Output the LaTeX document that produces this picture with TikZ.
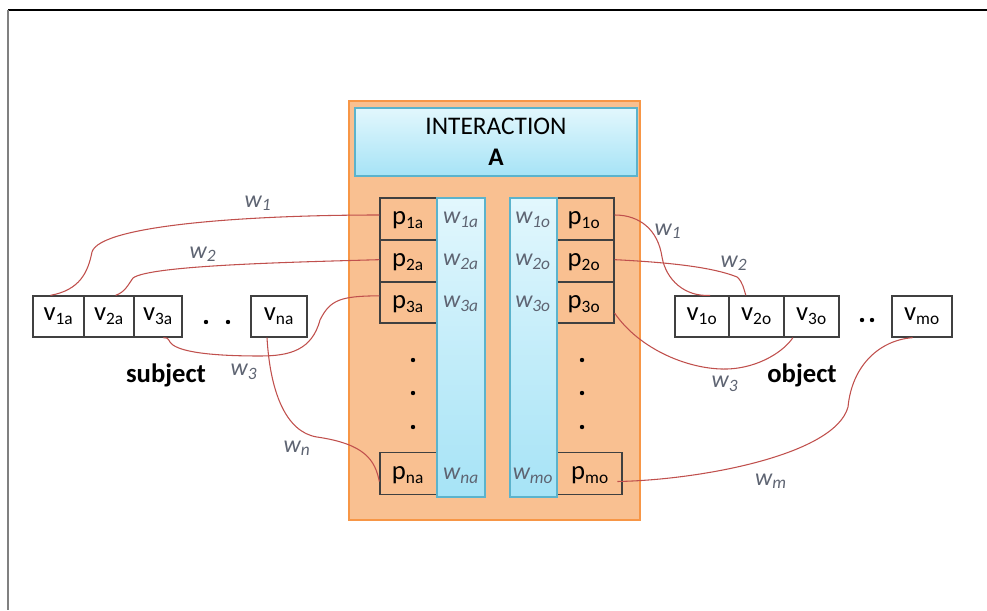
\documentclass[tikz,border=0pt]{standalone}
\usepackage{fontspec}
\setmainfont{Carlito}
\usetikzlibrary{calc}
\definecolor{orfill}{HTML}{F9C091}
\definecolor{ordraw}{HTML}{F79646}
\definecolor{bltop}{HTML}{E2F7FD}
\definecolor{blbot}{HTML}{A6E3F6}
\definecolor{bldraw}{HTML}{5BB3CC}
\definecolor{wire}{HTML}{C0504D}
\definecolor{wcol}{HTML}{5E6472}
\tikzset{
  pbox/.style={draw=black!75, line width=1pt, fill=orfill, inner sep=0pt},
  vbox/.style={draw=black!75, line width=1pt, fill=white, inner sep=0pt, minimum height=41*0.75pt, font=\fontsize{20}{20}\selectfont},
  plab/.style={font=\fontsize{20}{20}\selectfont, inner sep=0pt},
  bcol/.style={draw=bldraw, line width=0.8pt, top color=bltop, bottom color=blbot, inner sep=0pt},
  wlab/.style={text=wcol, font=\fontsize{18}{18}\selectfont\itshape, inner sep=0pt},
  conn/.style={draw=wire, line width=0.8pt},
  dotc/.style={circle, fill=black, inner sep=0pt, minimum size=3.3pt},
  capt/.style={font=\fontsize{20}{20}\selectfont\bfseries, inner sep=0pt}
}
\newcommand{\sbx}[2]{#1\textsubscript{\fontsize{13}{13}\selectfont #2}}
\newcommand{\wsb}[1]{w\textsubscript{\fontsize{13}{13}\selectfont\itshape #1}}
\begin{document}
\begin{tikzpicture}[x=0.75pt, y=-0.75pt]
\useasboundingbox (0,0) rectangle (987,610);
% frame
\draw[black, line width=1pt] (8,10) -- (987,10);
\draw[gray, line width=1.2pt] (8,10) -- (8,610);

% interaction container
\node[draw=ordraw, line width=1.8pt, fill=orfill, minimum width=291*0.75pt, minimum height=419*0.75pt, inner sep=0pt] (cont) at (494.5,310.5) {};
\node[draw=bldraw, line width=1pt, top color=bltop, bottom color=blbot, minimum width=282*0.75pt, minimum height=68*0.75pt, inner sep=0pt] (inter) at (496,142) {};
\node[font=\fontsize{19}{19}\selectfont, inner sep=0pt] (itext) at (496,126) {INTERACTION};
\node[font=\fontsize{19}{19}\selectfont\bfseries, inner sep=0pt] (atext) at (496,157) {A};

% left p boxes
\node[pbox, minimum width=60*0.75pt, minimum height=42*0.75pt] (p1a) at (410,219) {};
\node[pbox, minimum width=60*0.75pt, minimum height=42*0.75pt] (p2a) at (410,261) {};
\node[pbox, minimum width=60*0.75pt, minimum height=41*0.75pt] (p3a) at (410,302.5) {};
\node[pbox, minimum width=60*0.75pt, minimum height=42*0.75pt] (pna) at (410,473.5) {};
% right p boxes
\node[pbox, minimum width=60*0.75pt, minimum height=42*0.75pt] (p1o) at (584,219) {};
\node[pbox, minimum width=60*0.75pt, minimum height=42*0.75pt] (p2o) at (584,261) {};
\node[pbox, minimum width=60*0.75pt, minimum height=41*0.75pt] (p3o) at (584,302.5) {};
\node[pbox, minimum width=68*0.75pt, minimum height=42*0.75pt] (pmo) at (588,473.5) {};

% blue columns
\node[bcol, minimum width=48*0.75pt, minimum height=299*0.75pt] (colA) at (461,347.5) {};
\node[bcol, minimum width=47*0.75pt, minimum height=299*0.75pt] (colO) at (533.5,347.5) {};

% p labels
\node[plab] at (408,220) {\sbx{p}{1a}};
\node[plab] at (408,262) {\sbx{p}{2a}};
\node[plab] at (408,304) {\sbx{p}{3a}};
\node[plab] at (408,475) {\sbx{p}{na}};
\node[plab] at (584,220) {\sbx{p}{1o}};
\node[plab] at (584,262) {\sbx{p}{2o}};
\node[plab] at (584,304) {\sbx{p}{3o}};
\node[plab] at (590,475) {\sbx{p}{mo}};

% w labels in columns
\node[wlab] at (461,220) {\wsb{1a}};
\node[wlab] at (461,262) {\wsb{2a}};
\node[wlab] at (461,304) {\wsb{3a}};
\node[wlab] at (461,476) {\wsb{na}};
\node[wlab] at (533,220) {\wsb{1o}};
\node[wlab] at (533,262) {\wsb{2o}};
\node[wlab] at (533,304) {\wsb{3o}};
\node[wlab] at (533,476) {\wsb{mo}};

% dots
\foreach \yy/\nm in {360/a1,393/a2,427/a3} \node[dotc] (d\nm) at (413,\yy) {};
\foreach \yy/\nm in {360/o1,393/o2,427/o3} \node[dotc] (d\nm) at (582,\yy) {};

% subject
\node[vbox, minimum width=51*0.75pt] (v1a) at (58.5,316.5) {\sbx{v}{1a}};
\node[vbox, minimum width=50*0.75pt] (v2a) at (109,316.5) {\sbx{v}{2a}};
\node[vbox, minimum width=48*0.75pt] (v3a) at (158,316.5) {\sbx{v}{3a}};
\node[dotc] (sd1) at (206,322) {};
\node[dotc] (sd2) at (228,322) {};
\node[vbox, minimum width=56*0.75pt] (vna) at (279,316.5) {\sbx{v}{na}};
\node[capt] (subj) at (166,375) {subject};

% object
\node[vbox, minimum width=54*0.75pt] (v1o) at (702,316.5) {\sbx{v}{1o}};
\node[vbox, minimum width=55*0.75pt] (v2o) at (756.5,316.5) {\sbx{v}{2o}};
\node[vbox, minimum width=55*0.75pt] (v3o) at (811.5,316.5) {\sbx{v}{3o}};
\node[dotc] (od1) at (862,320) {};
\node[dotc] (od2) at (872,320) {};
\node[vbox, minimum width=60*0.75pt] (vmo) at (922,316.5) {\sbx{v}{mo}};
\node[capt] (obj) at (802,375) {object};

% connectors
\draw[conn] ([yshift=3pt]p1a.west) .. controls (250,215) and (100,225) .. (92,252) .. controls (88,272) and (80,290) .. ([xshift=-6pt]v1a.north);
\draw[conn] ([yshift=1pt]p2a.west) .. controls (300,262) and (150,265) .. (133,278) .. controls (128,285) and (125,292) .. ([xshift=5pt]v2a.north);
\draw[conn] ([yshift=5pt]p3a.west) .. controls (340,296) and (330,300) .. (320,320) .. controls (312,350) and (290,356) .. (260,356) .. controls (200,356) and (175,350) .. (170,342) .. controls (168,338) and (166,337) .. ([xshift=4pt]v3a.south);
\draw[conn] ([xshift=-9pt]vna.south) .. controls (270,390) and (285,432) .. (317,437) .. controls (365,444) and (375,460) .. ([yshift=-6pt]pna.west);
\draw[conn] ([yshift=3pt]p1o.east) .. controls (640,215) and (658,230) .. (662,257) .. controls (666,280) and (685,297) .. ([xshift=6pt]v1o.north);
\draw[conn] ([yshift=1pt]p2o.east) .. controls (660,262) and (710,266) .. (737,277) .. controls (743,282) and (744,290) .. ([xshift=-8pt]v2o.north);
\draw[conn] ([yshift=-8pt]p3o.east) .. controls (640,350) and (690,370) .. (727,369) .. controls (760,368) and (785,350) .. ([xshift=-14pt]v3o.south);
\draw[conn] ([xshift=-4pt,yshift=-6pt]pmo.east) .. controls (700,480) and (835,455) .. (848,407) .. controls (852,365) and (880,340) .. ([xshift=-7pt]vmo.south);

% connector labels
\node[wlab] (lw1) at (258,203) {\wsb{1}};
\node[wlab] (lw2) at (203,254) {\wsb{2}};
\node[wlab] (lw3) at (244,372) {\wsb{3}};
\node[wlab] (lwn) at (297,448) {\wsb{n}};
\node[wlab] (rw1) at (668,231) {\wsb{1}};
\node[wlab] (rw2) at (734,263) {\wsb{2}};
\node[wlab] (rw3) at (725,384) {\wsb{3}};
\node[wlab] (rwm) at (771,481) {\wsb{m}};
\end{tikzpicture}
\end{document}
